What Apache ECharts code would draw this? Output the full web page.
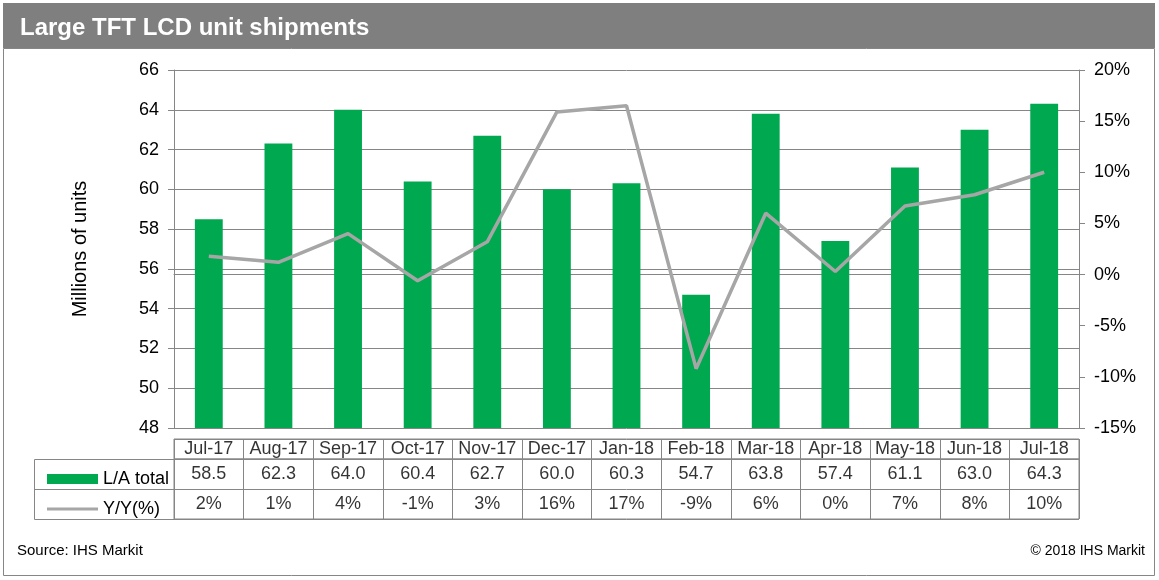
<!DOCTYPE html>
<html>
<head>
<meta charset="utf-8">
<script src="https://cdn.jsdelivr.net/npm/echarts@6/dist/echarts.min.js"></script>
<style>
html,body{margin:0;padding:0;background:#fff;}
#c{width:1159px;height:580px;}
</style>
</head>
<body>
<div id="c"></div>
<script>
var categories = ['Jul-17','Aug-17','Sep-17','Oct-17','Nov-17','Dec-17','Jan-18','Feb-18','Mar-18','Apr-18','May-18','Jun-18','Jul-18'];
var laTotal = [58.5,62.3,64.0,60.4,62.7,60.0,60.3,54.7,63.8,57.4,61.1,63.0,64.3];
var yoy = [1.8,1.2,4.0,-0.6,3.2,15.9,16.5,-9.2,6.0,0.3,6.7,7.8,10.0];
var yoyLabels = ['2%','1%','4%','-1%','3%','16%','17%','-9%','6%','0%','7%','8%','10%'];
var leftTicks = {min:48, max:66, interval:2};
var rightTicks = {min:-15, max:20, interval:5};

var FONT = 'Arial, "Liberation Sans", sans-serif';
var GRID = '#868686';
var GREEN = '#00a84f';
var LINEGREY = '#a6a6a6';
var FS = 18;

var headerData = categories.map(function(c,i){ return [i, 0, c]; });
var bodyData = [];
categories.forEach(function(c,i){
  bodyData.push([i, 1, laTotal[i].toFixed(1)]);
  bodyData.push([i, 0, yoyLabels[i]]);
});

function tableX(gi){
  return {type:'category', data:categories, gridIndex:gi, boundaryGap:true,
    axisLine:{show:false}, axisTick:{show:false}, axisLabel:{show:false},
    splitLine:{show:true, interval:0, lineStyle:{color:GRID, width:1}}};
}
function tableY(gi, rows){
  return {type:'category', gridIndex:gi, data:rows, boundaryGap:true,
    axisLine:{show:false}, axisTick:{show:false}, axisLabel:{show:false},
    splitLine:{show:true, interval:0, lineStyle:{color:GRID, width:1}}};
}
var cellLabel = {show:true, position:'inside', color:'#000', fontSize:FS, fontFamily:FONT,
  formatter:function(p){return p.value[2];}};

var chart = echarts.init(document.getElementById('c'), null, {renderer:'canvas'});
chart.setOption({
  animation:false,
  textStyle:{fontFamily:FONT},
  grid:[
    {left:174, right:80, top:70, bottom:152},
    {left:174, right:80, top:459, height:60, show:true, borderColor:GRID, borderWidth:1},
    {left:174, right:80, top:439, height:20, show:true, borderColor:GRID, borderWidth:1}
  ],
  xAxis:[
    {type:'category', data:categories, gridIndex:0, boundaryGap:true,
     axisLine:{show:true, lineStyle:{color:GRID}}, axisTick:{show:false}, axisLabel:{show:false}},
    tableX(1),
    tableX(2)
  ],
  yAxis:[
    {type:'value', gridIndex:0, min:leftTicks.min, max:leftTicks.max, interval:leftTicks.interval,
     name:'Millions of units', nameLocation:'middle', nameGap:84, nameRotate:90,
     nameTextStyle:{color:'#000', fontSize:20, fontFamily:FONT},
     axisLine:{show:true, lineStyle:{color:GRID}},
     axisTick:{show:true, length:6, lineStyle:{color:GRID}},
     axisLabel:{color:'#000', fontSize:FS, margin:15, fontFamily:FONT},
     splitLine:{show:true, lineStyle:{color:GRID, width:1}}},
    {type:'value', gridIndex:0, position:'right', min:rightTicks.min, max:rightTicks.max, interval:rightTicks.interval,
     axisLine:{show:true, lineStyle:{color:GRID}},
     axisTick:{show:true, length:6, lineStyle:{color:GRID}},
     axisLabel:{color:'#000', fontSize:FS, margin:15, formatter:'{value}%', fontFamily:FONT},
     splitLine:{show:false}},
    tableY(1, ['yoy','la']),
    tableY(2, ['hdr'])
  ],
  legend:[
    {data:[{name:'L/A total', icon:'rect'}], left:42, top:465, itemWidth:51, itemHeight:10, itemGap:0,
     selectedMode:false, textStyle:{color:'#000', fontSize:FS, fontFamily:FONT}},
    {data:[{name:'Y/Y(%)', icon:'rect'}], left:42, top:495, itemWidth:51, itemHeight:3, itemGap:0,
     selectedMode:false, textStyle:{color:'#000', fontSize:FS, fontFamily:FONT}}
  ],
  graphic:[
    {type:'rect', z:-1, shape:{x:3, y:3, width:1152, height:45}, style:{fill:'#7f7f7f'}},
    {type:'rect', z:-1, shape:{x:3.5, y:48.5, width:1151, height:527}, style:{fill:'none', stroke:GRID, lineWidth:1}},
    {type:'text', x:20, y:28, style:{text:'Large TFT LCD unit shipments', fill:'#fff', verticalAlign:'middle',
      font:'bold 24px Arial, "Liberation Sans", sans-serif'}},
    {type:'rect', shape:{x:34.5, y:459.5, width:140, height:60}, style:{fill:'none', stroke:GRID, lineWidth:1}},
    {type:'line', shape:{x1:34.5, y1:489.5, x2:174.5, y2:489.5}, style:{stroke:GRID, lineWidth:1}},
    {type:'text', x:17, y:551, style:{text:'Source: IHS Markit', fill:'#000', verticalAlign:'middle',
      font:'15px Arial, "Liberation Sans", sans-serif'}},
    {type:'text', x:1145, y:551, style:{text:'\u00a9 2018 IHS Markit', fill:'#000', align:'right', verticalAlign:'middle',
      font:'14px Arial, "Liberation Sans", sans-serif'}}
  ],
  series:[
    {name:'L/A total', type:'bar', xAxisIndex:0, yAxisIndex:0, data:laTotal, barWidth:'40%',
     itemStyle:{color:GREEN}},
    {name:'Y/Y(%)', type:'line', xAxisIndex:0, yAxisIndex:1, data:yoy, symbol:'none',
     lineStyle:{color:LINEGREY, width:3.5}, itemStyle:{color:LINEGREY}, z:3},
    {name:'tableBody', type:'scatter', xAxisIndex:1, yAxisIndex:2, data:bodyData, symbolSize:0,
     silent:true, encode:{x:0, y:1}, label:cellLabel},
    {name:'tableHeader', type:'scatter', xAxisIndex:2, yAxisIndex:3, data:headerData, symbolSize:0,
     silent:true, encode:{x:0, y:1}, label:cellLabel}
  ]
});
</script>
</body>
</html>
